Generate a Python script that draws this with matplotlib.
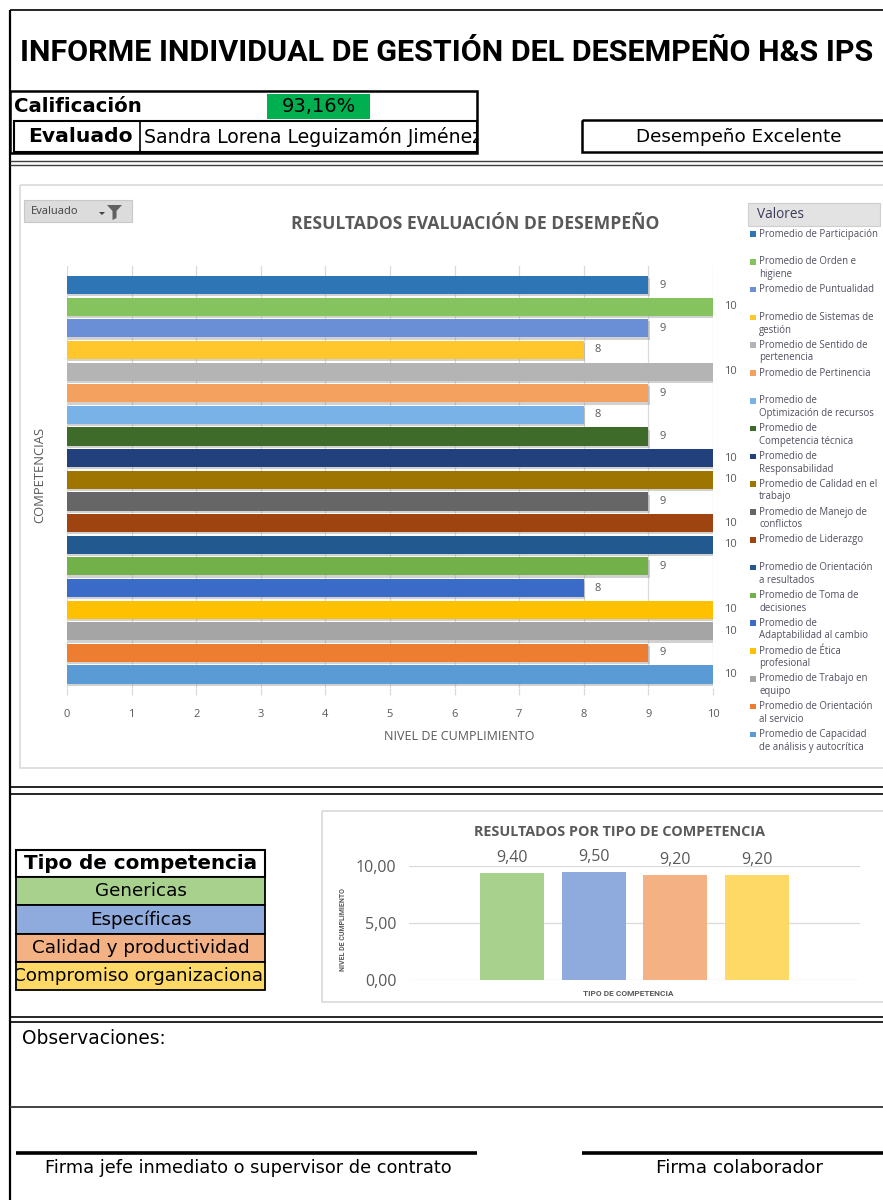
import numpy as np
import matplotlib
matplotlib.use('Agg')
import matplotlib.pyplot as plt
import matplotlib.patheffects as pe
from matplotlib.patches import Rectangle, Polygon
from matplotlib.ticker import FuncFormatter
from matplotlib import font_manager as fm

W, H = 883, 1200

# ---- datos del informe ----
titulo = "INFORME INDIVIDUAL DE GESTIÓN DEL DESEMPEÑO H&S IPS"
calificacion = "93,16%"
evaluado = "Sandra Lorena Leguizamón Jiménez"
nivel = "Desempeño Excelente"

competencias = [
    "Promedio de Participación",
    "Promedio de Orden e\nhigiene",
    "Promedio de Puntualidad",
    "Promedio de Sistemas de\ngestión",
    "Promedio de Sentido de\npertenencia",
    "Promedio de Pertinencia",
    "Promedio de\nOptimización de recursos",
    "Promedio de\nCompetencia técnica",
    "Promedio de\nResponsabilidad",
    "Promedio de Calidad en el\ntrabajo",
    "Promedio de Manejo de\nconflictos",
    "Promedio de Liderazgo",
    "Promedio de Orientación\na resultados",
    "Promedio de Toma de\ndecisiones",
    "Promedio de\nAdaptabilidad al cambio",
    "Promedio de Ética\nprofesional",
    "Promedio de Trabajo en\nequipo",
    "Promedio de Orientación\nal servicio",
    "Promedio de Capacidad\nde análisis y autocrítica",
]
valores = [9, 10, 9, 8, 10, 9, 8, 9, 10, 10, 9, 10, 10, 9, 8, 10, 10, 9, 10]
colores = ["#2E75B6", "#84C35E", "#6A8FD6", "#FFC72C", "#B4B4B4", "#F4A05E",
           "#78B2E6", "#3F6B2A", "#22407C", "#9E7500", "#666666", "#9E4410",
           "#22598F", "#72B04A", "#3A6BC8", "#FFC000", "#A5A5A5", "#ED7D31",
           "#5B9BD5"]

tipos = ["Genericas", "Específicas", "Calidad y productividad",
         "Compromiso organizacional"]
tipo_valores = [9.40, 9.50, 9.20, 9.20]
tipo_colores = ["#A9D18E", "#8FAADC", "#F4B183", "#FFD966"]


def pick(*names):
    for n in names:
        try:
            fm.findfont(n, fallback_to_default=False)
            return n
        except ValueError:
            pass
    return 'DejaVu Sans'

NARROW = pick('Liberation Sans Narrow', 'Roboto', 'Lato', 'DejaVu Sans')
CAL = pick('Open Sans', 'Lato', 'DejaVu Sans')
CELL = 'DejaVu Sans'
GRIS = '#595959'

fig = plt.figure(figsize=(W / 100, H / 100), dpi=100)
ax0 = fig.add_axes([0, 0, 1, 1])
ax0.set_xlim(0, W)
ax0.set_ylim(H, 0)
ax0.axis('off')


def px_axes(x0, y0, x1, y1):
    return fig.add_axes([x0 / W, 1 - y1 / H, (x1 - x0) / W, (y1 - y0) / H])


def line(x0, y0, x1, y1, lw=1.0, color='black'):
    ax0.plot([x0, x1], [y0, y1], color=color, lw=lw, solid_capstyle='butt')


def box(x0, y0, x1, y1, fc='none', ec='black', lw=1.2):
    r = Rectangle((x0, y0), x1 - x0, y1 - y0, fc=fc, ec=ec, lw=lw)
    ax0.add_patch(r)
    return r


def cell_text(x, y, s, clip=None, **kw):
    t = ax0.text(x, y, s, **kw)
    if clip is not None:
        t.set_clip_on(True)
        t.set_clip_path(clip)
    return t


def fit_width(t, target):
    r = fig.canvas.get_renderer()
    w = t.get_window_extent(renderer=r).width
    t.set_fontsize(t.get_fontsize() * target / w)


# ---- encabezado ----
line(10, 10, 10, H, lw=1.6)
line(10, 10, W, 10, lw=1.2)
t_tit = ax0.text(20, 53, titulo, fontsize=22, fontweight='bold', family=NARROW,
                 va='center', ha='left')
fit_width(t_tit, 852)

box(10, 91, 477, 153, lw=1.8)
box(267, 94, 370, 119, fc='#00B050', ec='none')
ax0.text(14, 106, "Calificación", fontsize=14.2, fontweight='bold', family=CELL,
         va='center')
ax0.text(319, 106, calificacion, fontsize=14, family=CELL, va='center',
         ha='center')
box(14, 121, 477, 152, lw=1.5)
line(140, 121, 140, 152, lw=1.2)
ax0.text(28, 137, "Evaluado", fontsize=14.6, fontweight='bold', family=CELL,
         va='center')
clip_nom = Rectangle((141, 122), 335, 29, transform=ax0.transData)
cell_text(144, 137, evaluado, clip=clip_nom, fontsize=13.6, family=CELL,
          va='center')
box(582, 120, 900, 152, lw=1.8)
ax0.text(739, 137, nivel, fontsize=13.2, family=CELL, va='center', ha='center')

line(10, 161, W, 161, lw=1.0, color='#404040')
line(10, 165, W, 165, lw=1.0, color='#404040')

# ---- grafico 1: resultados evaluacion ----
box(20, 185, 900, 768, ec='#D9D9D9', lw=1.2)
box(24, 200, 132, 222, fc='#DCDCDC', ec='#C8C8C8', lw=0.8)
ax0.text(31, 211, "Evaluado", fontsize=8, family=CAL, color='#404040',
         va='center')
ax0.add_patch(Polygon([(99, 212), (105, 212), (102, 215)], fc='#404040'))
ax0.add_patch(Polygon([(107, 205), (122, 205), (116.5, 211), (116.5, 218),
                       (112.5, 220), (112.5, 211)], fc='#606060'))
ax0.text(475, 224, "RESULTADOS EVALUACIÓN DE DESEMPEÑO", fontsize=12.6,
         fontweight='bold', family=CAL, color=GRIS, ha='center', va='center')
ax0.text(459, 736, "NIVEL DE CUMPLIMIENTO", fontsize=9, family=CAL,
         color=GRIS, ha='center', va='center')
ax0.text(40, 475, "COMPETENCIAS", fontsize=9.4, family=CAL, color=GRIS,
         ha='center', va='center', rotation=90)

box(748, 203, 880, 226, fc='#E3E3E3', ec='#CFCFCF', lw=0.8)
ax0.text(757, 214.5, "Valores", fontsize=9.8, family=CAL, color='#3A3A5A',
         va='center')
for i, (lab, c) in enumerate(zip(competencias, colores)):
    y = 234 + 27.8 * i
    ax0.add_patch(Rectangle((750, y - 2.8), 5.5, 5.5, fc=c, ec='none'))
    ax0.text(759, y - 5.5, lab, fontsize=6.9, family=CAL, color='#505060',
             va='top', ha='left', linespacing=1.22)

ax1 = px_axes(67, 266, 713, 688)
ax1.patch.set_alpha(0)
ypos = np.arange(len(valores))
sombra = [pe.SimplePatchShadow(offset=(1.0, -1.6), shadow_rgbFace='#9A9A9A',
                               alpha=0.45), pe.Normal()]
barras = ax1.barh(ypos, valores, height=0.84, color=colores, zorder=3)
for b in barras:
    b.set_path_effects(sombra)
for i, v in enumerate(valores):
    ax1.annotate(str(v), (v, i), xytext=(8, 0), textcoords='offset points',
                 va='center', ha='left', fontsize=8, color=GRIS, family=CAL,
                 annotation_clip=False)
ax1.set_xlim(0, 10)
ax1.set_ylim(len(valores) - 1 + 0.62, -0.88)
ax1.set_xticks(range(11))
ax1.set_yticks([])
ax1.grid(axis='x', color='#D9D9D9', lw=0.9, zorder=0)
ax1.set_axisbelow(True)
for s in ax1.spines.values():
    s.set_visible(False)
ax1.tick_params(axis='x', length=5, width=0.9, color='#D9D9D9', labelsize=8,
                labelcolor=GRIS, pad=10)
for lb in ax1.get_xticklabels():
    lb.set_family(CAL)

line(10, 787, W, 787, lw=1.2)
line(10, 794, W, 794, lw=1.2)

# ---- tabla tipo de competencia ----
box(16, 850, 265, 877, fc='white', lw=1.5)
ax0.text(141, 863.5, "Tipo de competencia", fontsize=14.3, fontweight='bold',
         family=CELL, ha='center', va='center')
for i, (t, c) in enumerate(zip(tipos, tipo_colores)):
    y0 = 877 + 28.3 * i
    r = box(16, y0, 265, y0 + 28.3, fc=c, lw=1.3)
    clip = Rectangle((17, y0), 247, 28.3, transform=ax0.transData)
    cell_text(141, y0 + 14, t, clip=clip, fontsize=13.2, family=CELL,
              ha='center', va='center')

# ---- grafico 2: resultados por tipo ----
box(322, 811, 900, 1002, ec='#D9D9D9', lw=1.2)
ax0.text(620, 832, "RESULTADOS POR TIPO DE COMPETENCIA", fontsize=10.4,
         fontweight='bold', family=CAL, color=GRIS, ha='center', va='center')
ax0.text(343, 930, "NIVEL DE CUMPLIMIENTO", fontsize=5, fontweight='bold',
         family=NARROW, color=GRIS, ha='center', va='center', rotation=90)
ax0.text(628, 993, "TIPO DE COMPETENCIA", fontsize=6, fontweight='bold',
         family=NARROW, color=GRIS, ha='center', va='center')

ax2 = px_axes(409, 866, 860, 980)
ax2.patch.set_alpha(0)
xpos = np.arange(len(tipo_valores))
ax2.bar(xpos, tipo_valores, width=0.78, color=tipo_colores, zorder=3)
for i, v in enumerate(tipo_valores):
    ax2.annotate(f"{v:.2f}".replace('.', ','), (i, v), xytext=(0, 5),
                 textcoords='offset points', ha='center', va='bottom',
                 fontsize=11.5, color=GRIS, family=CAL, annotation_clip=False)
ax2.set_xlim(-1.26, 4.26)
ax2.set_ylim(0, 10)
ax2.set_yticks([0, 5, 10])
ax2.yaxis.set_major_formatter(FuncFormatter(lambda v, p: f"{v:.2f}".replace('.', ',')))
ax2.set_xticks([])
ax2.grid(axis='y', color='#D9D9D9', lw=0.9, zorder=0)
for s in ax2.spines.values():
    s.set_visible(False)
ax2.tick_params(axis='y', length=0, labelsize=11.5, labelcolor=GRIS, pad=9)
for lb in ax2.get_yticklabels():
    lb.set_family(CAL)

# ---- observaciones y firmas ----
line(10, 1017, W, 1017, lw=1.2)
line(10, 1022, W, 1022, lw=1.2)
ax0.text(22, 1038, "Observaciones:", fontsize=13.4, family=CELL, va='center')
line(10, 1107, W, 1107, lw=1.3, color='#333333')
line(16, 1153, 477, 1153, lw=2.6)
line(582, 1153, W, 1153, lw=2.6)
ax0.text(248, 1168, "Firma jefe inmediato o supervisor de contrato",
         fontsize=12.8, family=CELL, ha='center', va='center')
ax0.text(739, 1168, "Firma colaborador", fontsize=13.3, family=CELL,
         ha='center', va='center')

fig.savefig('out.png', dpi=100)
